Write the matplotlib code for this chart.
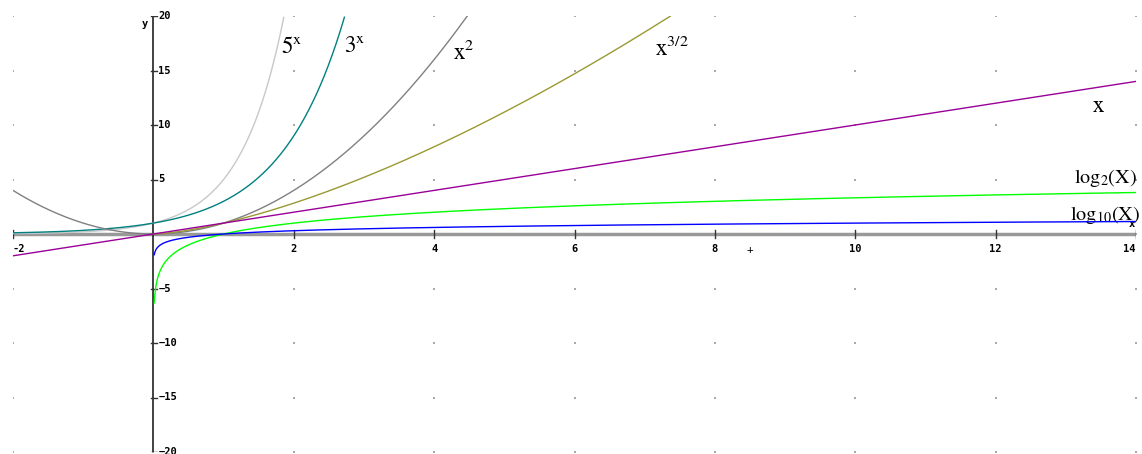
import numpy as np
import matplotlib.pyplot as plt

plt.rc('mathtext', fontset='stix')

# chart contents: the functions drawn and their colours
exp_bases = [5, 3]
exp_colors = ['#c8c8c8', '#008080']
powers = [2, 1.5, 1]
power_colors = ['#808080', '#999933', '#990099']
log_bases = [2, 10]
log_colors = ['#00ff00', '#0000ff']

x_min, x_max = -2, 14
y_min, y_max = -20, 20
log_start = 0.0125

x_ticks = [-2, 2, 4, 6, 8, 10, 12, 14]
y_ticks = [-20, -15, -10, -5, 5, 10, 15, 20]

labels = [r'$\mathrm{5^x}$', r'$\mathrm{3^x}$', r'$\mathrm{x^2}$', r'$\mathrm{x^{3/2}}$',
          r'$\mathrm{x}$', r'$\mathrm{log_2(X)}$', r'$\mathrm{log_{10}(X)}$']
label_x = [1.82, 2.72, 4.27, 7.14, 13.38, 13.12, 13.06]
label_y = [16.6, 16.6, 16.1, 16.4, 11.2, 4.7, 1.3]
label_size = [16.5, 16.5, 16.5, 16.5, 16.5, 14.5, 14.5]

fig = plt.figure(figsize=(11.42, 4.54), dpi=100)
ax = fig.add_axes([13/1142, 2/454, 1123/1142, 436/454])
ax.set_xlim(x_min, x_max)
ax.set_ylim(y_min, y_max)
ax.axis('off')

# grid dots
gx, gy = np.meshgrid(np.arange(x_min, x_max + 1, 2), np.arange(y_min, y_max + 1, 5))
ax.scatter(gx.ravel(), gy.ravel(), s=0.8, c='#aaaaaa', marker='s', lw=0, zorder=1)

# axes through origin
ax.axhline(0, color='#999999', lw=2.5, zorder=2)
ax.axvline(0, color='#333333', lw=1.3, zorder=2)
tick_font = dict(family='DejaVu Sans Mono', weight='bold', fontsize=7.5)
for t in x_ticks:
    ax.plot([t, t], [-0.35, 0.35], color='#333333', lw=1, zorder=3)
    ax.text(t, -0.9, str(t), ha='left' if t == x_min else ('right' if t == x_max else 'center'),
            va='top', **tick_font)
for t in y_ticks:
    ax.plot([-0.03, 0.05], [t, t], color='#333333', lw=1, zorder=3)
    ax.text(0.07, t, str(t).replace('-', '\u2212'), ha='left', va='center', **tick_font)
ax.text(-0.07, 19.3, 'y', ha='right', va='center', **tick_font)
ax.text(13.98, 0.5, 'x', ha='right', va='bottom', **tick_font)
ax.text(8.5, -1.5, '+', ha='center', va='center', family='DejaVu Sans Mono', fontsize=8)

xs = np.linspace(x_min, x_max, 3000)
for b, c in zip(exp_bases, exp_colors):
    y = b ** xs
    m = y <= y_max
    ax.plot(xs[m], y[m], color=c, lw=1, zorder=4)

xp = np.linspace(0, x_max, 3000)
for p, c in zip(powers, power_colors):
    xx = xp if p == 1.5 else xs
    y = xx ** p
    m = y <= y_max
    ax.plot(xx[m], y[m], color=c, lw=1, zorder=4)

xl = np.linspace(log_start, x_max, 5000)
for b, c in zip(log_bases, log_colors):
    ax.plot(xl, np.log(xl) / np.log(b), color=c, lw=1, zorder=4)

for s, lx, ly, fs in zip(labels, label_x, label_y, label_size):
    ax.text(lx, ly, s, ha='left', va='baseline', fontsize=fs)

plt.savefig('out.png', dpi=100)
